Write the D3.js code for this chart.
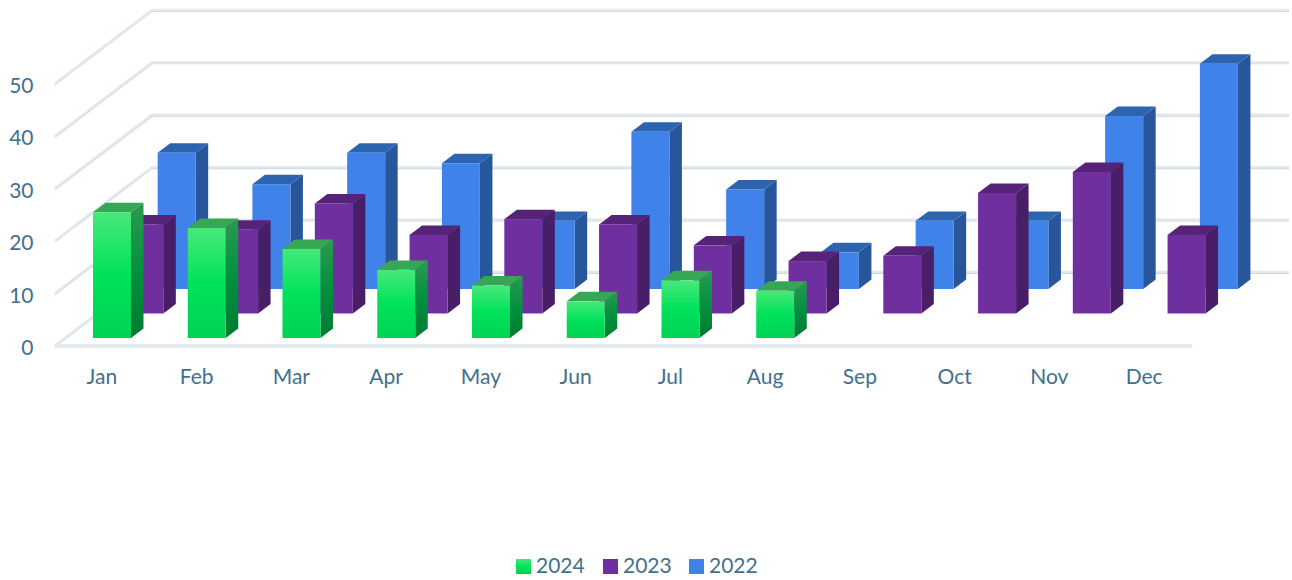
<!DOCTYPE html>
<html><head><meta charset="utf-8">
<script src="https://cdn.jsdelivr.net/npm/d3@7"></script>
<style>html,body{margin:0;padding:0;background:#fff}svg{display:block}text{font-family:Lato,"Open Sans",sans-serif;fill:#41708f}</style>
</head><body><svg id="c" width="1292" height="580"></svg>
<script>
const months = ["Jan","Feb","Mar","Apr","May","Jun","Jul","Aug","Sep","Oct","Nov","Dec"];
const yTicks = [0,10,20,30,40,50];
const values2024 = [24,21,17,13,10,7,11,9,null,null,null,null];
const values2023 = [17,16,21,15,18,17,13,10,11,23,27,15];
const values2022 = [26,20,26,24,13,30,19,7,13,13,33,43];
const seriesNames = ["2024","2023","2022"];

const seriesStyles = {
  "2024": {grad:"g24", side:"gs24", top:"#37a756"},
  "2023": {front:"#702f9e", side:"#481f66", top:"#572379"},
  "2022": {front:"#3f82ea", side:"#28569a", top:"#2d64b0"}
};
const seriesData = {"2024":values2024,"2023":values2023,"2022":values2022};

const svg = d3.select("#c");
const defs = svg.append("defs");
function grad(id, stops){
  const g = defs.append("linearGradient").attr("id",id).attr("x1",0).attr("y1",0).attr("x2",0).attr("y2",1);
  stops.forEach(([o,c])=>g.append("stop").attr("offset",o).attr("stop-color",c));
}
grad("g24",[[0,"#47e97a"],[0.5,"#00e25b"],[1,"#00d254"]]);
grad("gs24",[[0,"#2a9a50"],[0.55,"#008f3d"],[1,"#007a33"]]);

const x = d3.scaleBand().domain(months).range([55,1192]);
const y = d3.scaleLinear().domain([0,50]).range([345.5,83.5]);
const depthX = 97, depthY = 73.5;
const z = d3.scalePoint().domain(seriesNames).range([1/6,5/6]);
const barW = 38, barD = 0.129;
const px = (m,dx,zv)=>x(m)+x.bandwidth()/2+dx+zv*depthX-0.3;
const py = (v,zv)=>y(v)-zv*depthY;

const grid = svg.append("g").attr("fill","none").attr("stroke-linejoin","round");
function gridPath(t){
  const y0=y(t), xl=x.range()[0], xr=x.range()[1];
  return `M${xl},${y0}L${xl+depthX},${y0-depthY}L${xr+depthX},${y0-depthY}`;
}
grid.selectAll("path.s").data(yTicks).join("path").attr("d",gridPath).attr("stroke","#cbd3da").attr("stroke-width",1.1).attr("transform","translate(0,1.4)");
grid.selectAll("path.m").data(yTicks).join("path").attr("d",gridPath).attr("stroke","#e1e8ee").attr("stroke-width",2.4);
grid.append("path").attr("d",`M${x.range()[0]},${y(0)+1.5}L${x.range()[1]},${y(0)+1.5}`).attr("stroke","#cbd3da").attr("stroke-width",0.8);
grid.append("path").attr("d",`M${x.range()[0]},${y(0)}L${x.range()[1]},${y(0)}`).attr("stroke","#e1e8ee").attr("stroke-width",2.8);

const barsG = svg.append("g");
seriesNames.slice().reverse().forEach(s=>{
  const st = seriesStyles[s];
  const zf = z(s)-barD/2, zb = z(s)+barD/2;
  const g = barsG.append("g");
  months.forEach((m,i)=>{
    const v = seriesData[s][i];
    if(v==null) return;
    const l=px(m,-barW/2,zf), r=l+barW, t=py(v,zf), b=py(0,zf);
    const lb=px(m,-barW/2,zb), rb=lb+barW, tb=py(v,zb), bb=py(0,zb);
    g.append("path").attr("d",`M${r},${t}L${rb},${tb}L${rb},${bb}L${r},${b}Z`)
      .attr("fill",st.side.startsWith("gs")?`url(#${st.side})`:st.side);
    g.append("path").attr("d",`M${l},${t}L${lb},${tb}L${rb},${tb}L${r},${t}Z`).attr("fill",st.top);
    g.append("rect").attr("x",l).attr("y",t).attr("width",barW).attr("height",b-t)
      .attr("fill",st.grad?`url(#${st.grad})`:st.front);
  });
});

svg.append("g").selectAll("text").data(yTicks).join("text")
  .attr("x",33.5).attr("y",d=>y(d)+2).attr("dy","0.36em").attr("text-anchor","end")
  .attr("font-size",21).text(d=>d);
svg.append("g").selectAll("text").data(months).join("text")
  .attr("x",d=>x(d)+x.bandwidth()/2-0.5).attr("y",376.5).attr("dy","0.36em").attr("text-anchor","middle")
  .attr("font-size",21).text(d=>d);

const legendX = d3.scaleOrdinal().domain(seriesNames).range([516,603,689]);
const leg = svg.append("g").selectAll("g").data(seriesNames).join("g")
  .attr("transform",d=>`translate(${legendX(d)},559)`);
leg.append("rect").attr("width",15).attr("height",15)
  .attr("fill",d=>seriesStyles[d].grad?`url(#${seriesStyles[d].grad})`:seriesStyles[d].front);
leg.append("text").attr("x",20).attr("y",14.3).attr("font-size",21).text(d=>d);
</script></body></html>
